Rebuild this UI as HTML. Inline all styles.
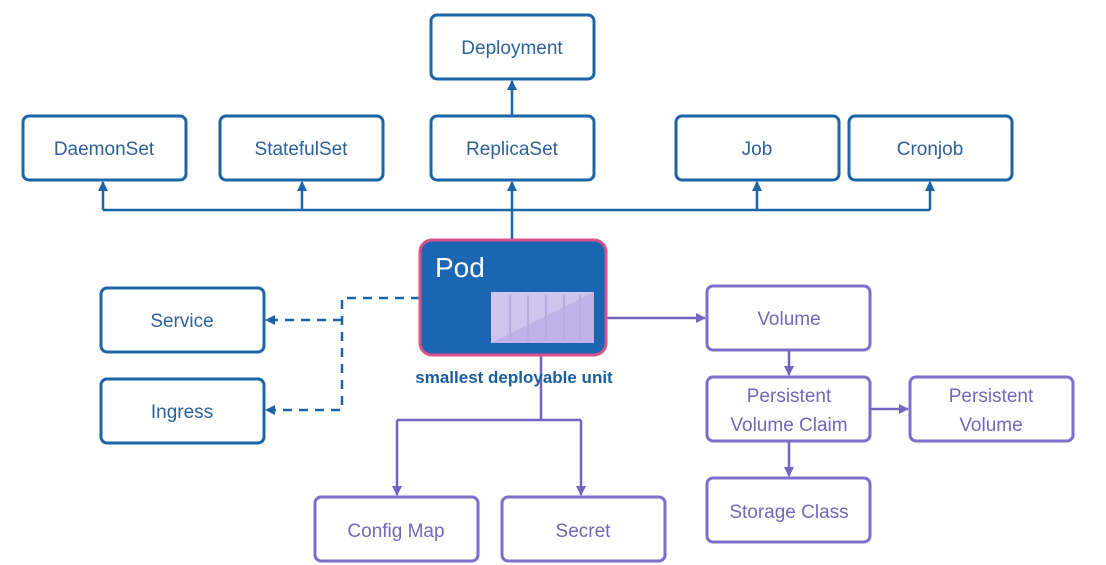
<!DOCTYPE html>
<html><head><meta charset="utf-8"><style>
html,body{margin:0;padding:0;background:#fff;width:1106px;height:565px;overflow:hidden}
text{font-family:"Liberation Sans",sans-serif;}
</style></head><body>
<svg width="1106" height="565" viewBox="0 0 1106 565" xmlns="http://www.w3.org/2000/svg">
<defs>
<marker id="ab" markerWidth="10" markerHeight="10" refX="9" refY="5" orient="auto" markerUnits="userSpaceOnUse"><path d="M0,0 L10,5 L0,10 z" fill="#1c64a8"/></marker>
<marker id="ap" markerWidth="10" markerHeight="10" refX="9" refY="5" orient="auto" markerUnits="userSpaceOnUse"><path d="M0,0 L10,5 L0,10 z" fill="#7465c4"/></marker>
</defs>
<g fill="#fff" stroke="#1c64a8" stroke-width="3">
<rect x="431" y="15" width="163" height="64" rx="6"/>
<rect x="23" y="116" width="163" height="64" rx="6"/>
<rect x="220" y="116" width="163" height="64" rx="6"/>
<rect x="431" y="116" width="163" height="64" rx="6"/>
<rect x="676" y="116" width="163" height="64" rx="6"/>
<rect x="849" y="116" width="163" height="64" rx="6"/>
<rect x="101" y="288" width="163" height="64" rx="6"/>
<rect x="101" y="379" width="163" height="64" rx="6"/>
</g>
<g fill="#fff" stroke="#7d6fcc" stroke-width="3">
<rect x="707" y="286" width="163" height="64" rx="6"/>
<rect x="707" y="377" width="163" height="64" rx="6"/>
<rect x="910" y="377" width="163" height="64" rx="6"/>
<rect x="707" y="478" width="163" height="64" rx="6"/>
<rect x="315" y="497" width="163" height="64" rx="6"/>
<rect x="502" y="497" width="163" height="64" rx="6"/>
</g>
<g stroke="#1c64a8" stroke-width="2.5" fill="none">
<path d="M103 210 H930"/>
<path d="M103 210 V182" marker-end="url(#ab)"/>
<path d="M302 210 V182" marker-end="url(#ab)"/>
<path d="M512 240 V182" marker-end="url(#ab)"/>
<path d="M757 210 V182" marker-end="url(#ab)"/>
<path d="M930 210 V182" marker-end="url(#ab)"/>
<path d="M512 116 V81" marker-end="url(#ab)"/>
<path d="M420 298 H342 V410 H266" stroke-dasharray="9,7" marker-end="url(#ab)"/>
<path d="M342 320 H266" stroke-dasharray="9,7" marker-end="url(#ab)"/>
</g>
<g stroke="#7465c4" stroke-width="2.5" fill="none">
<path d="M594 318 H705" marker-end="url(#ap)"/>
<path d="M789 350 V375" marker-end="url(#ap)"/>
<path d="M789 441 V476" marker-end="url(#ap)"/>
<path d="M870 409 H908" marker-end="url(#ap)"/>
<path d="M541 343 V420"/>
<path d="M397 420 H581"/>
<path d="M397 420 V495" marker-end="url(#ap)"/>
<path d="M581 420 V495" marker-end="url(#ap)"/>
</g>
<rect x="420" y="240" width="186" height="115" rx="12" fill="#1b66b3" stroke="#d8518a" stroke-width="3"/>
<rect x="491" y="292" width="103" height="51" fill="#cfc4ee"/>
<path d="M491 343 L594 292 V343 Z" fill="#bfb2e6"/>
<g stroke="#b8abe0" stroke-width="2"><path d="M510 295V340M528 295V340M546 295V340M564 295V340M580 295V340"/></g>
<text x="435" y="277" font-size="28" fill="#fff">Pod</text>
<text x="514" y="383" font-size="17" font-weight="bold" fill="#1c5d9c" text-anchor="middle">smallest deployable unit</text>
<g font-size="19" fill="#2d6299" text-anchor="middle">
<text x="512" y="54">Deployment</text>
<text x="104" y="155">DaemonSet</text>
<text x="301" y="155">StatefulSet</text>
<text x="512" y="155">ReplicaSet</text>
<text x="757" y="155">Job</text>
<text x="930" y="155">Cronjob</text>
<text x="182" y="327">Service</text>
<text x="182" y="418">Ingress</text>
</g>
<g font-size="19" fill="#7466b8" text-anchor="middle">
<text x="789" y="325">Volume</text>
<text x="789" y="402">Persistent</text>
<text x="789" y="431">Volume Claim</text>
<text x="991" y="402">Persistent</text>
<text x="991" y="431">Volume</text>
<text x="789" y="518">Storage Class</text>
<text x="396" y="537">Config Map</text>
<text x="583" y="537">Secret</text>
</g>
</svg>
</body></html>
